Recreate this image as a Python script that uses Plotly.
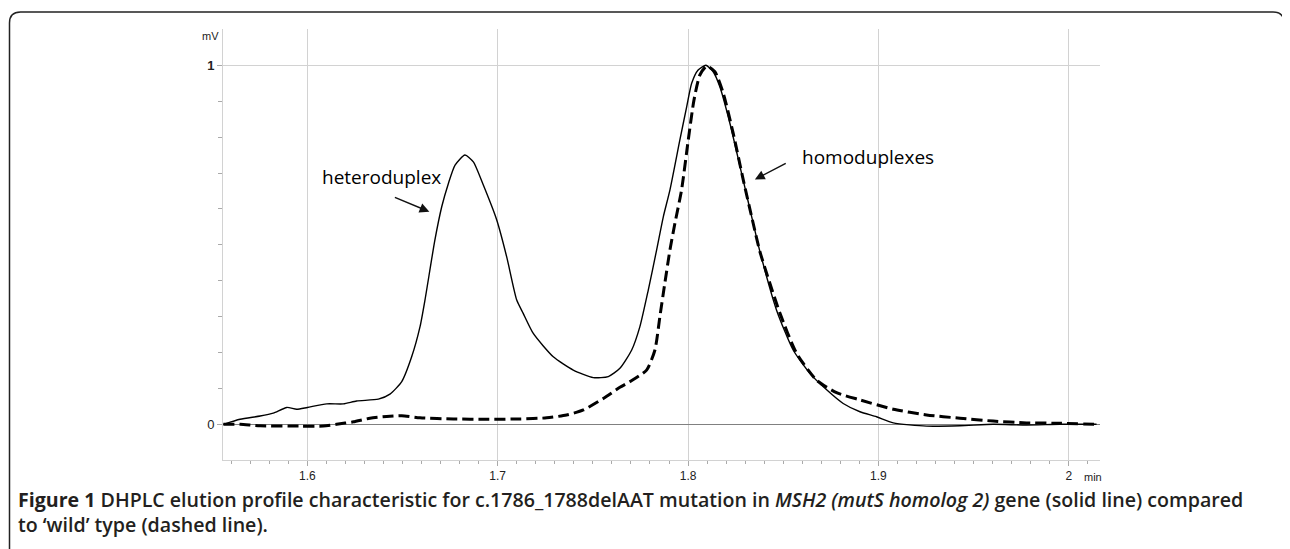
import plotly.graph_objects as go

# ---- data ----
hetero_x = [1.5559, 1.5647, 1.5752, 1.5821, 1.5892, 1.5944, 1.6000, 1.6102, 1.6189, 1.6259,
            1.6373, 1.6434, 1.6496, 1.6548, 1.6592, 1.6618, 1.6670, 1.6706, 1.6741, 1.6776,
            1.6828, 1.6872, 1.6924, 1.6995, 1.7047, 1.7100, 1.7134, 1.7187, 1.7292, 1.7397,
            1.7502, 1.7581, 1.7642, 1.7704, 1.7747, 1.7791, 1.7835, 1.7870, 1.7905, 1.7957,
            1.7993, 1.8019, 1.8053, 1.8094, 1.8132, 1.8167, 1.8220, 1.8273, 1.8316, 1.8351,
            1.8378, 1.8465, 1.8552, 1.8640, 1.8728, 1.8815, 1.8903, 1.8990, 1.9078, 1.9253,
            1.9428, 1.9603, 1.9778, 1.9953, 2.0146]
hetero_y = [0.000, 0.014, 0.023, 0.031, 0.047, 0.042, 0.047, 0.057, 0.057, 0.065,
            0.070, 0.084, 0.119, 0.188, 0.272, 0.346, 0.513, 0.606, 0.671, 0.722,
            0.750, 0.731, 0.667, 0.569, 0.467, 0.346, 0.309, 0.253, 0.188, 0.151,
            0.130, 0.133, 0.156, 0.207, 0.272, 0.374, 0.486, 0.578, 0.653, 0.792,
            0.885, 0.950, 0.987, 1.000, 0.982, 0.940, 0.838, 0.718, 0.620, 0.540,
            0.480, 0.318, 0.207, 0.142, 0.096, 0.058, 0.035, 0.021, 0.004, -0.005,
            -0.004, 0.000, -0.002, 0.000, 0.000]

wild_x = [1.5559, 1.5647, 1.5752, 1.5962, 1.6084, 1.6154, 1.6242, 1.6329, 1.6417, 1.6496,
          1.6592, 1.6767, 1.6942, 1.7117, 1.7257, 1.7362, 1.7450, 1.7555, 1.7642, 1.7695,
          1.7782, 1.7826, 1.7852, 1.7878, 1.7905, 1.7931, 1.7966, 1.8001, 1.8031, 1.8062,
          1.8098, 1.8141, 1.8185, 1.8237, 1.8290, 1.8342, 1.8378, 1.8483, 1.8570, 1.8675,
          1.8780, 1.8903, 1.9078, 1.9253, 1.9428, 1.9603, 1.9778, 1.9953, 2.0146]
wild_y = [0.000, 0.000, -0.004, -0.005, -0.005, 0.000, 0.007, 0.017, 0.022, 0.024,
          0.018, 0.015, 0.014, 0.015, 0.018, 0.026, 0.040, 0.072, 0.103, 0.119,
          0.151, 0.207, 0.300, 0.393, 0.486, 0.560, 0.653, 0.792, 0.903, 0.973,
          0.998, 0.982, 0.922, 0.811, 0.681, 0.560, 0.480, 0.309, 0.198, 0.123,
          0.088, 0.068, 0.042, 0.026, 0.017, 0.009, 0.004, 0.003, 0.000]

x_tickvals = [1.6, 1.7, 1.8, 1.9, 2.0]
x_ticktext = ["1.6", "1.7", "1.8", "1.9", "2"]
y_tickvals = [0, 1]
y_ticktext = ["0", "<b>1</b>"]

caption_text = ("<b>Figure 1</b> DHPLC elution profile characteristic for c.1786_1788delAAT mutation in "
                "<i>MSH2 (mutS homolog 2)</i> gene (solid line) compared<br>"
                "to ‘wild’ type (dashed line).")

# ---- layout geometry (page pixels; the page body has an 8px margin) ----
OFF = 8
W, H = 1290 - OFF, 549 - OFF
PLOT_L, PLOT_R, PLOT_T, PLOT_B = 223, 1100, 29, 460   # page coords
ML, MR = PLOT_L - OFF, 1290 - PLOT_R
MT, MB = PLOT_T - OFF, 549 - PLOT_B
PW, PH = W - ML - MR, H - MT - MB


def px(x):
    return (x - PLOT_L) / PW


def py(y):
    return (PLOT_B - y) / PH


fig = go.Figure()
fig.add_trace(go.Scatter(x=wild_x, y=wild_y, mode="lines",
                         line=dict(color="black", width=3, dash="11px,5px", shape="spline", smoothing=0.6),
                         showlegend=False, hoverinfo="skip"))
fig.add_trace(go.Scatter(x=hetero_x, y=hetero_y, mode="lines",
                         line=dict(color="black", width=1.4, shape="spline", smoothing=0.6),
                         showlegend=False, hoverinfo="skip"))

minor_x = [round(1.56 + 0.01 * i, 2) for i in range(46)]
minor_y = [round(-0.1 + 0.1 * i, 1) for i in range(12)]

fig.update_xaxes(range=[1.5557, 2.0164], tickmode="array", tickvals=x_tickvals, ticktext=x_ticktext,
                 showgrid=True, gridcolor="#d2d2d2", gridwidth=1, zeroline=False,
                 showline=True, linecolor="#d2d2d2", linewidth=1,
                 ticks="outside", ticklen=5, tickcolor="#aaaaaa",
                 tickfont=dict(family="Liberation Sans", size=12, color="#222222"),
                 minor=dict(tickmode="array", tickvals=minor_x, ticks="outside", ticklen=3,
                            tickcolor="#aaaaaa", showgrid=False))
fig.update_yaxes(range=[-0.0994, 1.1011], tickmode="array", tickvals=y_tickvals, ticktext=y_ticktext,
                 showgrid=True, gridcolor="#d2d2d2", gridwidth=1,
                 zeroline=True, zerolinecolor="#808080", zerolinewidth=1,
                 showline=True, linecolor="#d2d2d2", linewidth=1,
                 ticks="outside", ticklen=5, tickcolor="#aaaaaa",
                 tickfont=dict(family="Liberation Sans", size=13, color="#222222"),
                 minor=dict(tickmode="array", tickvals=minor_y, ticks="outside", ticklen=4,
                            tickcolor="#aaaaaa", showgrid=False))

annots = []
# curve labels
annots.append(dict(x=1.6387, y=0.689, xref="x", yref="y", text="heteroduplex", showarrow=False,
                   font=dict(family="Open Sans", size=19, color="#000000", weight=500)))
annots.append(dict(x=1.6641, y=0.592, ax=1.6452, ay=0.634, xref="x", yref="y", axref="x", ayref="y",
                   text="", showarrow=True, arrowhead=2, arrowsize=1.3, arrowwidth=1.5, arrowcolor="#111111"))
annots.append(dict(x=1.8945, y=0.745, xref="x", yref="y", text="homoduplexes", showarrow=False,
                   font=dict(family="Open Sans", size=19, color="#000000", weight=500)))
annots.append(dict(x=1.8351, y=0.682, ax=1.8521, ay=0.729, xref="x", yref="y", axref="x", ayref="y",
                   text="", showarrow=True, arrowhead=2, arrowsize=1.3, arrowwidth=1.5, arrowcolor="#111111"))
# axis units
annots.append(dict(x=px(221), y=py(36), xref="paper", yref="paper", xanchor="right", yanchor="middle",
                   text="mV", showarrow=False, font=dict(family="Liberation Sans", size=11, color="#222222")))
annots.append(dict(x=px(1082), y=py(477), xref="paper", yref="paper", xanchor="left", yanchor="middle",
                   text="min", showarrow=False, font=dict(family="Liberation Sans", size=11, color="#222222")))
# caption (two lines in one text block)
annots.append(dict(x=px(16), y=py(512.5), xref="paper", yref="paper", xanchor="left", yanchor="middle",
                   text=caption_text, showarrow=False, align="left",
                   font=dict(family="Open Sans", size=19.6, color="#231f20", weight=600)))

# rounded outer frame
x0, y0, x1, y1, r = 9.5, 12, 1284, 575, 11
path = (f"M {px(x0 + r)},{py(y0)} L {px(x1 - r)},{py(y0)} Q {px(x1)},{py(y0)} {px(x1)},{py(y0 + r)} "
        f"L {px(x1)},{py(y1)} L {px(x0)},{py(y1)} L {px(x0)},{py(y0 + r)} "
        f"Q {px(x0)},{py(y0)} {px(x0 + r)},{py(y0)} Z")
fig.add_shape(type="path", path=path, xref="paper", yref="paper",
              line=dict(color="#222222", width=1.5), fillcolor="rgba(0,0,0,0)", layer="above")

fig.update_layout(width=W, height=H, margin=dict(l=ML, r=MR, t=MT, b=MB),
                  paper_bgcolor="white", plot_bgcolor="white", annotations=annots,
                  showlegend=False)

fig.write_html("out.html")
